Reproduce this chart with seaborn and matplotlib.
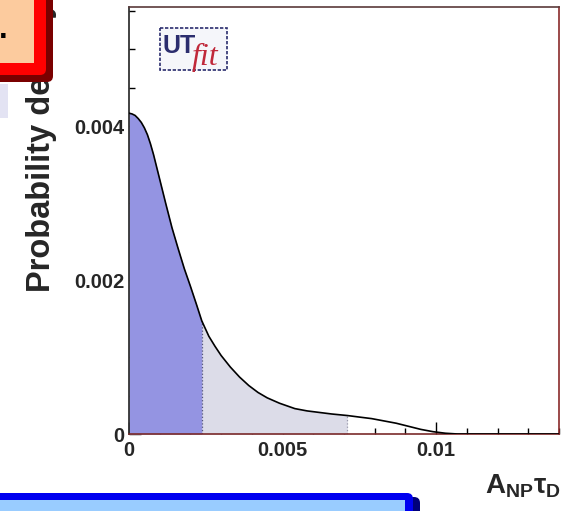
import numpy as np
import pandas as pd
import matplotlib
matplotlib.use("Agg")
import matplotlib.pyplot as plt
from matplotlib.ticker import MultipleLocator
from matplotlib.patches import Rectangle, FancyBboxPatch
import seaborn as sns

# Posterior p.d.f. of A_NP * tau_D
a_np_tau = [0.0, 0.0001, 0.0002, 0.0003, 0.0004, 0.0005, 0.0006, 0.0007,
            0.0008, 0.0010, 0.0012, 0.0014, 0.0016, 0.0018, 0.0020, 0.0022,
            0.00237, 0.0026, 0.0028, 0.0030, 0.0033, 0.0036, 0.0039, 0.0042,
            0.0045, 0.0049, 0.0054, 0.0058, 0.0062, 0.0066, 0.00711, 0.0075,
            0.0079, 0.0083, 0.0087, 0.0091, 0.0095, 0.0099, 0.0103, 0.0107,
            0.0110, 0.0140]
density = [0.00417, 0.00416, 0.00414, 0.00410, 0.00405, 0.00398, 0.00389,
           0.00377, 0.00363, 0.00331, 0.00299, 0.00268, 0.00241, 0.00215,
           0.00192, 0.00168, 0.00147, 0.00127, 0.00114, 0.00102, 0.00087,
           0.00074, 0.00063, 0.00054, 0.00047, 0.00040, 0.00033, 0.00030,
           0.00028, 0.00026, 0.00024, 0.00022, 0.00020, 0.00017, 0.00014,
           0.00010, 0.00006, 0.00003, 0.00001, 0.0, 0.0, 0.0]

# Upper edges of the 68% and 95% probability regions
band68_hi = 0.00237
band95_hi = 0.00711

x_ticks = [0, 0.005, 0.01]
x_tick_labels = ["0", "0.005", "0.01"]
y_ticks = [0, 0.002, 0.004]
y_tick_labels = ["0", "0.002", "0.004"]

sns.set_style("white")
plt.rcParams["font.family"] = ["Liberation Sans", "DejaVu Sans"]
plt.rcParams["mathtext.fontset"] = "custom"
plt.rcParams["mathtext.rm"] = "Liberation Sans:bold"
plt.rcParams["mathtext.bf"] = "Liberation Sans:bold"
plt.rcParams["mathtext.it"] = "Liberation Sans:bold"

df = pd.DataFrame({"x": a_np_tau, "pdf": density})

W, H = 571, 511
fig = plt.figure(figsize=(W / 100, H / 100), dpi=100)
fig.patch.set_facecolor("white")
ax = fig.add_axes([129 / W, 1 - 434 / H, 430 / W, 427 / H])
ax.set_xlim(0, 0.014)
ax.set_ylim(0, 0.00555)

x = df["x"].to_numpy()
y = df["pdf"].to_numpy()
ax.fill_between(x, 0, y, where=x <= band95_hi, color="#DCDCE8", lw=0)
ax.fill_between(x, 0, y, where=x <= band68_hi, color="#9494E2", lw=0)
i68 = int(np.argmin(np.abs(x - band68_hi)))
i95 = int(np.argmin(np.abs(x - band95_hi)))
ax.vlines(band68_hi, 0, y[i68], colors="#55557a", linestyles=":", lw=0.9)
ax.vlines(band95_hi, 0, y[i95], colors="#9a9aac", linestyles=":", lw=0.9)
sns.lineplot(data=df, x="x", y="pdf", ax=ax, color="black", lw=1.2,
             sort=False, zorder=5)

# axes frame and ticks
for side, col in {"left": "#222222", "bottom": "#7a2a2a",
                  "top": "#5a3a3a", "right": "#8a2a2a"}.items():
    ax.spines[side].set_color(col)
    ax.spines[side].set_linewidth(1.2)
ax.set_xticks(x_ticks)
ax.set_xticklabels(x_tick_labels)
ax.set_yticks(y_ticks)
ax.set_yticklabels(y_tick_labels)
ax.xaxis.set_minor_locator(MultipleLocator(0.001))
ax.yaxis.set_minor_locator(MultipleLocator(0.0005))
ax.tick_params(which="both", direction="in", top=False, right=False,
               bottom=True, left=True, color="black", width=1.0)
ax.tick_params(which="major", length=8.5, labelsize=14.5)
ax.tick_params(which="minor", length=4.3)
ax.tick_params(axis="x", which="major", pad=5.0)
ax.tick_params(axis="y", which="major", pad=3.0)
for lab in ax.get_xticklabels() + ax.get_yticklabels():
    lab.set_fontweight("bold")

ax.set_ylabel("Probability density", fontsize=23.5, fontweight="bold")
ax.yaxis.set_label_coords(-0.167, 0.675)
ax.set_xlabel(r"$\mathbf{A}_{\mathbf{NP}}\mathbf{\tau}_{\mathbf{D}}$", fontsize=20)
ax.xaxis.set_label_coords((561 - 129) / 430, (434 - 473) / 427)
ax.xaxis.label.set_ha("right")

# surrounding slide decorations, in pixel coordinates
ov = fig.add_axes([0, 0, 1, 1], zorder=10)
ov.set_xlim(0, W)
ov.set_ylim(H, 0)
ov.axis("off")
ov.patch.set_alpha(0)

# UTfit logo
ov.add_patch(Rectangle((160, 28), 67, 42, facecolor="#f5f6fa",
                       edgecolor="#2b2d6e", lw=1.2, ls=(0, (2, 1))))
ov.text(162, 53, "UT", fontsize=18, fontweight="bold", color="#2b2d6e",
        va="baseline", ha="left")
ov.text(192, 65, "fit", fontsize=23, fontstyle="italic", color="#c0283a",
        family="Liberation Serif", va="baseline", ha="left")

# red framed note box at top left
ov.add_patch(FancyBboxPatch((-20, -20), 73, 102, boxstyle="round,pad=0,rounding_size=6",
                            facecolor="#7a0000", edgecolor="none"))
ov.add_patch(FancyBboxPatch((-20, -20), 66, 95, boxstyle="round,pad=0,rounding_size=6",
                            facecolor="#ff0000", edgecolor="none"))
ov.add_patch(Rectangle((-20, -20), 54, 83, facecolor="#fccb9e", edgecolor="none"))
ov.text(-1, 38, ".", fontsize=22, fontweight="bold", color="black",
        va="baseline", ha="left")
ov.add_patch(Rectangle((0, 84), 8, 34, facecolor="#e3e3f3", edgecolor="none"))

# blue framed box at the bottom
ov.add_patch(FancyBboxPatch((-20, 497), 440, 40, boxstyle="round,pad=0,rounding_size=6",
                            facecolor="#00007a", edgecolor="none"))
ov.add_patch(FancyBboxPatch((-20, 493), 433, 40, boxstyle="round,pad=0,rounding_size=6",
                            facecolor="#0000f0", edgecolor="none"))
ov.add_patch(Rectangle((-20, 500), 425, 30, facecolor="#99ccff", edgecolor="none"))

fig.savefig("out.png", dpi=100)
